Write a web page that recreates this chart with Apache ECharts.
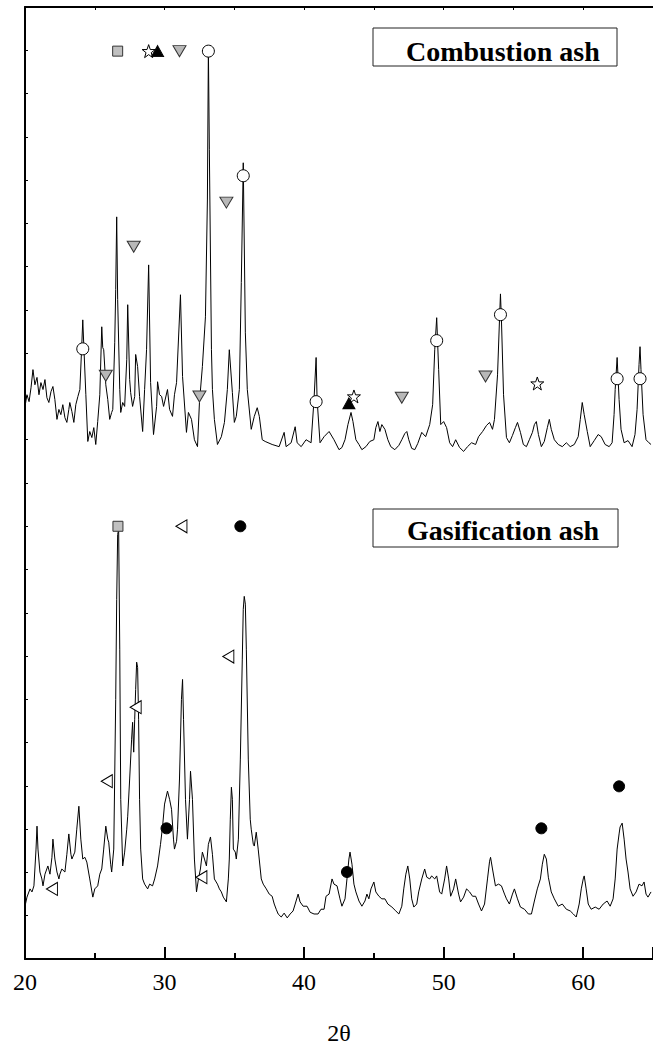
<!DOCTYPE html>
<html>
<head>
<meta charset="utf-8">
<title>XRD ash</title>
<script src="https://cdn.jsdelivr.net/npm/echarts/dist/echarts.min.js"></script>
<style>
  html, body { margin: 0; padding: 0; background: #fff; }
  #xrd { width: 653px; height: 1050px; }
</style>
</head>
<body>
<div id="xrd"></div>
<script>
// combustion ash pattern (2theta, counts)
var combTheta = [20.00, 20.14, 20.29, 20.43, 20.57, 20.71, 20.86, 21.00, 21.14, 21.29, 21.43, 21.57, 21.71, 21.86, 22.00, 22.14, 22.29, 22.43, 22.57, 22.71,
  22.86, 23.00, 23.14, 23.21, 23.36, 23.50, 23.64, 23.79, 23.93, 24.07, 24.14, 24.21, 24.36, 24.50, 24.64, 24.79, 24.93, 25.07, 25.21, 25.36,
  25.50, 25.57, 25.64, 25.79, 25.93, 26.07, 26.21, 26.29, 26.43, 26.50, 26.57, 26.64, 26.79, 26.86, 27.00, 27.14, 27.29, 27.36, 27.50, 27.57,
  27.71, 27.86, 27.93, 28.07, 28.21, 28.43, 28.57, 28.71, 28.86, 29.00, 29.21, 29.43, 29.50, 29.64, 29.79, 29.93, 30.21, 30.36, 30.57, 30.71,
  30.86, 31.14, 31.29, 31.57, 31.71, 31.93, 32.14, 32.36, 32.50, 32.71, 32.93, 33.07, 33.14, 33.21, 33.36, 33.43, 33.57, 33.79, 34.07, 34.29,
  34.50, 34.64, 34.86, 35.00, 35.14, 35.36, 35.50, 35.64, 35.79, 35.93, 36.21, 36.43, 36.64, 36.79, 37.00, 37.21, 37.71, 38.21, 38.57, 38.71,
  39.07, 39.36, 39.50, 39.79, 40.14, 40.50, 40.71, 40.86, 40.93, 41.14, 41.43, 41.79, 42.14, 42.50, 42.71, 42.93, 43.14, 43.36, 43.50, 43.71,
  43.93, 44.14, 44.43, 44.71, 45.00, 45.14, 45.29, 45.43, 45.57, 45.79, 46.00, 46.21, 46.50, 46.79, 47.00, 47.21, 47.36, 47.50, 47.71, 47.93,
  48.14, 48.43, 48.71, 49.00, 49.21, 49.36, 49.50, 49.64, 49.79, 50.00, 50.21, 50.43, 50.64, 50.86, 51.14, 51.43, 51.71, 52.00, 52.29, 52.50,
  52.79, 53.07, 53.29, 53.50, 53.64, 53.86, 54.00, 54.07, 54.14, 54.29, 54.50, 54.71, 54.93, 55.14, 55.29, 55.50, 55.71, 55.93, 56.14, 56.36,
  56.50, 56.64, 56.79, 57.00, 57.21, 57.43, 57.57, 57.71, 57.93, 58.21, 58.50, 58.79, 59.07, 59.36, 59.64, 59.79, 59.93, 60.07, 60.29, 60.50,
  60.79, 61.07, 61.29, 61.57, 61.86, 62.07, 62.21, 62.29, 62.43, 62.57, 62.71, 62.93, 63.21, 63.50, 63.71, 63.86, 64.00, 64.07, 64.14, 64.29,
  64.50, 64.71, 64.86];
var combCounts = [1277, 1304, 1288, 1320, 1362, 1327, 1344, 1304, 1332, 1316, 1339, 1297, 1286, 1311, 1323, 1293, 1247, 1270, 1258, 1281,
  1251, 1240, 1270, 1286, 1265, 1240, 1281, 1300, 1316, 1420, 1477, 1420, 1304, 1196, 1219, 1205, 1228, 1189, 1242, 1304,
  1461, 1413, 1408, 1327, 1293, 1247, 1263, 1270, 1424, 1547, 1715, 1524, 1316, 1263, 1286, 1277, 1385, 1512, 1339, 1309,
  1277, 1300, 1397, 1369, 1300, 1219, 1316, 1408, 1604, 1332, 1212, 1277, 1334, 1304, 1300, 1277, 1316, 1270, 1254, 1304,
  1332, 1535, 1346, 1217, 1263, 1247, 1200, 1184, 1286, 1369, 1484, 1754, 2105, 1870, 1408, 1316, 1247, 1189, 1207, 1240,
  1316, 1408, 1309, 1240, 1254, 1316, 1563, 1840, 1447, 1316, 1224, 1254, 1274, 1254, 1200, 1196, 1189, 1184, 1217, 1184,
  1193, 1230, 1193, 1184, 1200, 1193, 1293, 1390, 1293, 1193, 1207, 1219, 1200, 1177, 1182, 1200, 1235, 1263, 1242, 1200,
  1189, 1177, 1184, 1196, 1200, 1228, 1242, 1219, 1235, 1224, 1200, 1184, 1177, 1187, 1200, 1214, 1219, 1200, 1180, 1177,
  1191, 1217, 1207, 1235, 1281, 1408, 1482, 1362, 1235, 1242, 1228, 1193, 1184, 1200, 1182, 1173, 1184, 1193, 1189, 1207,
  1219, 1233, 1240, 1224, 1247, 1350, 1477, 1537, 1477, 1304, 1205, 1193, 1210, 1228, 1240, 1217, 1189, 1184, 1200, 1217,
  1235, 1242, 1212, 1184, 1196, 1228, 1247, 1224, 1200, 1189, 1184, 1193, 1184, 1189, 1207, 1247, 1286, 1258, 1219, 1184,
  1198, 1212, 1207, 1189, 1184, 1193, 1258, 1316, 1390, 1293, 1224, 1193, 1198, 1184, 1212, 1270, 1374, 1415, 1362, 1258,
  1200, 1193, 1189];

// gasification ash pattern (2theta, counts)
var gasTheta = [20.00, 20.14, 20.36, 20.50, 20.64, 20.79, 20.86, 20.93, 21.07, 21.21, 21.29, 21.43, 21.64, 21.79, 21.93, 22.00, 22.14, 22.29, 22.43, 22.50,
  22.64, 22.86, 23.00, 23.14, 23.29, 23.36, 23.57, 23.71, 23.86, 24.00, 24.14, 24.29, 24.43, 24.64, 24.86, 25.00, 25.21, 25.36, 25.50, 25.64,
  25.79, 25.93, 26.00, 26.14, 26.21, 26.36, 26.50, 26.57, 26.64, 26.71, 26.79, 26.86, 27.00, 27.14, 27.29, 27.36, 27.50, 27.64, 27.71, 27.79,
  27.86, 27.93, 28.00, 28.07, 28.14, 28.21, 28.29, 28.43, 28.57, 28.79, 28.93, 29.14, 29.29, 29.50, 29.71, 29.86, 30.00, 30.21, 30.36, 30.50,
  30.64, 30.71, 30.86, 30.93, 31.07, 31.21, 31.29, 31.36, 31.50, 31.64, 31.79, 31.86, 32.00, 32.14, 32.29, 32.43, 32.57, 32.71, 32.86, 33.00,
  33.14, 33.29, 33.43, 33.57, 33.79, 33.93, 34.07, 34.21, 34.43, 34.57, 34.64, 34.71, 34.79, 34.86, 34.93, 35.07, 35.14, 35.29, 35.43, 35.57,
  35.64, 35.71, 35.79, 35.86, 36.00, 36.14, 36.21, 36.36, 36.43, 36.57, 36.71, 36.93, 37.07, 37.29, 37.50, 37.71, 37.86, 38.00, 38.14, 38.36,
  38.57, 38.79, 39.00, 39.21, 39.36, 39.57, 39.71, 39.93, 40.21, 40.43, 40.71, 41.00, 41.21, 41.43, 41.57, 41.79, 42.00, 42.14, 42.36, 42.57,
  42.71, 42.93, 43.07, 43.21, 43.29, 43.43, 43.57, 43.71, 43.93, 44.14, 44.36, 44.50, 44.64, 44.79, 45.00, 45.14, 45.36, 45.57, 45.79, 46.00,
  46.29, 46.57, 46.79, 47.00, 47.14, 47.29, 47.43, 47.57, 47.71, 47.86, 48.07, 48.21, 48.43, 48.64, 48.79, 49.00, 49.14, 49.36, 49.50, 49.71,
  49.86, 50.07, 50.21, 50.36, 50.50, 50.71, 50.86, 51.07, 51.21, 51.43, 51.64, 51.86, 52.07, 52.29, 52.50, 52.71, 52.93, 53.14, 53.29, 53.36,
  53.50, 53.71, 53.93, 54.14, 54.36, 54.50, 54.71, 54.93, 55.07, 55.29, 55.50, 55.79, 56.07, 56.29, 56.50, 56.71, 56.93, 57.07, 57.21, 57.36,
  57.50, 57.71, 57.93, 58.21, 58.50, 58.79, 59.07, 59.29, 59.50, 59.71, 59.86, 60.00, 60.07, 60.21, 60.36, 60.57, 60.86, 61.14, 61.43, 61.71,
  61.93, 62.14, 62.29, 62.43, 62.57, 62.64, 62.79, 62.93, 63.07, 63.21, 63.36, 63.57, 63.79, 64.00, 64.21, 64.36, 64.50, 64.64, 64.86];
var gasCounts = [122, 143, 162, 155, 169, 254, 307, 254, 201, 185, 169, 196, 215, 196, 235, 277, 231, 201, 185, 196,
  208, 201, 242, 289, 242, 231, 247, 300, 353, 277, 231, 235, 224, 185, 143, 162, 169, 196, 208, 254,
  307, 277, 270, 219, 201, 254, 600, 831, 981, 993, 716, 369, 215, 247, 300, 330, 416, 508, 547, 478,
  554, 623, 686, 674, 554, 369, 254, 185, 173, 162, 173, 169, 185, 215, 265, 307, 358, 388, 369, 346,
  277, 254, 272, 300, 416, 600, 646, 554, 369, 277, 369, 434, 369, 231, 155, 185, 208, 247, 231, 215,
  265, 282, 242, 185, 173, 162, 155, 143, 132, 185, 231, 323, 397, 369, 254, 247, 231, 277, 462, 693,
  808, 838, 820, 716, 462, 323, 300, 265, 261, 293, 254, 185, 173, 162, 150, 145, 127, 115, 104, 97,
  106, 95, 104, 111, 127, 150, 132, 122, 122, 108, 104, 104, 115, 115, 145, 150, 185, 173, 169, 139,
  122, 139, 185, 231, 247, 219, 173, 155, 134, 122, 134, 150, 139, 162, 178, 155, 145, 139, 139, 127,
  120, 111, 104, 122, 162, 196, 215, 185, 139, 120, 127, 155, 185, 208, 189, 185, 192, 185, 192, 155,
  150, 185, 215, 185, 145, 162, 185, 150, 132, 143, 162, 155, 145, 145, 127, 111, 127, 185, 226, 235,
  208, 169, 173, 169, 150, 139, 127, 150, 162, 139, 120, 115, 104, 104, 134, 162, 185, 219, 242, 231,
  189, 155, 139, 122, 127, 115, 111, 104, 97, 127, 162, 185, 192, 162, 127, 115, 120, 115, 127, 134,
  122, 139, 185, 254, 289, 305, 314, 277, 231, 201, 162, 145, 155, 173, 169, 178, 150, 143, 155];

// phase markers [2theta, counts]
var squareMarks = [[26.64, 2098], [26.66, 1000]];
var starMarks = [[28.86, 2098], [43.57, 1300], [56.71, 1330]];
var upTriMarks = [[29.50, 2098], [43.21, 1284]];
var downTriMarks = [[31.07, 2098], [27.79, 1646], [34.43, 1748], [25.79, 1348], [32.50, 1300], [47.00, 1297], [53.00, 1346]];
var ringMarks = [[33.14, 2098], [35.64, 1810], [24.14, 1410], [40.86, 1288], [49.50, 1429], [54.07, 1489], [62.43, 1341], [64.07, 1341]];
var leftTriMarks = [[31.21, 1000], [34.57, 699], [21.93, 162], [25.86, 411], [27.93, 582], [32.64, 189]];
var dotMarks = [[35.43, 1000], [30.14, 302], [43.07, 201], [57.00, 302], [62.57, 399]];

var xTicks = [20, 30, 40, 50, 60];
var panelNames = ['Combustion ash', 'Gasification ash'];

var serif = '"Liberation Serif", "Times New Roman", serif';
var starPath = 'path://M10,0 L12.4,7 L19.5,7 L13.8,11.4 L15.9,18.5 L10,14.2 L4.1,18.5 L6.2,11.4 L0.5,7 L7.6,7 Z';

function pairs(xs, ys) {
    return xs.map(function (x, i) { return [x, ys[i]]; });
}

function marks(data, symbol, size, fill, border) {
    return {
        type: 'scatter',
        data: data,
        symbol: symbol,
        symbolSize: size,
        z: 5,
        itemStyle: { color: fill, borderColor: border, borderWidth: 1, opacity: 1 },
        silent: true
    };
}

var chart = echarts.init(document.getElementById('xrd'), null, { renderer: 'svg' });

var option = {
    animation: false,
    grid: { left: 25, top: 7, right: -2, bottom: 90 },
    xAxis: [
        {
            type: 'value', position: 'bottom',
            min: 20, max: 65, interval: 10,
            name: '2θ', nameLocation: 'middle', nameGap: 62,
            nameTextStyle: { fontFamily: serif, fontSize: 24, color: '#000' },
            axisLine: { lineStyle: { color: '#000', width: 2 } },
            axisTick: { inside: true, length: 12, lineStyle: { color: '#000', width: 2 } },
            minorTick: { show: true, splitNumber: 2, length: 6, lineStyle: { color: '#000', width: 2 } },
            axisLabel: {
                margin: 11, fontFamily: serif, fontSize: 24, color: '#000',
                showMaxLabel: false,
                formatter: function (v) { return xTicks.indexOf(v) >= 0 ? String(v) : ''; }
            },
            splitLine: { show: false }
        },
        {
            type: 'value', position: 'top',
            min: 20, max: 65, interval: 5,
            axisLine: { lineStyle: { color: '#000', width: 2 } },
            axisTick: { inside: true, length: 3, lineStyle: { color: '#000', width: 1 } },
            axisLabel: { show: false },
            splitLine: { show: false }
        }
    ],
    yAxis: {
        type: 'value', min: 0, max: 2200, interval: 100,
        axisLine: { show: true, lineStyle: { color: '#000', width: 2 } },
        axisTick: { show: true, inside: true, length: 3, lineStyle: { color: '#000', width: 1 } },
        axisLabel: { show: false },
        splitLine: { show: false }
    },
    series: [
        {
            name: panelNames[0], type: 'line', data: pairs(combTheta, combCounts),
            showSymbol: false, symbol: 'none', z: 3,
            lineStyle: { color: '#000', width: 1 }
        },
        {
            name: panelNames[1], type: 'line', data: pairs(gasTheta, gasCounts),
            showSymbol: false, symbol: 'none', z: 3,
            lineStyle: { color: '#000', width: 1 }
        },
        marks(squareMarks, 'rect', 10, '#c0c0c0', '#333'),
        marks(starMarks, starPath, 13, '#fff', '#000'),
        marks(upTriMarks, 'triangle', [12, 11], '#000', '#000'),
        marks(downTriMarks, 'path://M0,0 L12,0 L6,10 Z', [13, 11], '#b8b8b8', '#333'),
        marks(ringMarks, 'circle', 12, '#fff', '#000'),
        marks(leftTriMarks, 'path://M0,6 L11,0 L11,12 Z', [11, 13], '#fff', '#000'),
        marks(dotMarks, 'circle', 11, '#000', '#000')
    ],
    graphic: [
        {
            type: 'rect', shape: { x: 373, y: 28, width: 244, height: 38 },
            style: { fill: '#fff', stroke: '#222', lineWidth: 1 }, z: 10
        },
        {
            type: 'text', x: 406, y: 51, z: 11,
            style: { text: panelNames[0], font: 'bold 28px ' + serif, fill: '#000', verticalAlign: 'middle' }
        },
        {
            type: 'rect', shape: { x: 373, y: 509, width: 245, height: 38 },
            style: { fill: '#fff', stroke: '#222', lineWidth: 1 }, z: 10
        },
        {
            type: 'text', x: 407, y: 530, z: 11,
            style: { text: panelNames[1], font: 'bold 28px ' + serif, fill: '#000', verticalAlign: 'middle' }
        }
    ]
};

chart.setOption(option);
</script>
</body>
</html>
